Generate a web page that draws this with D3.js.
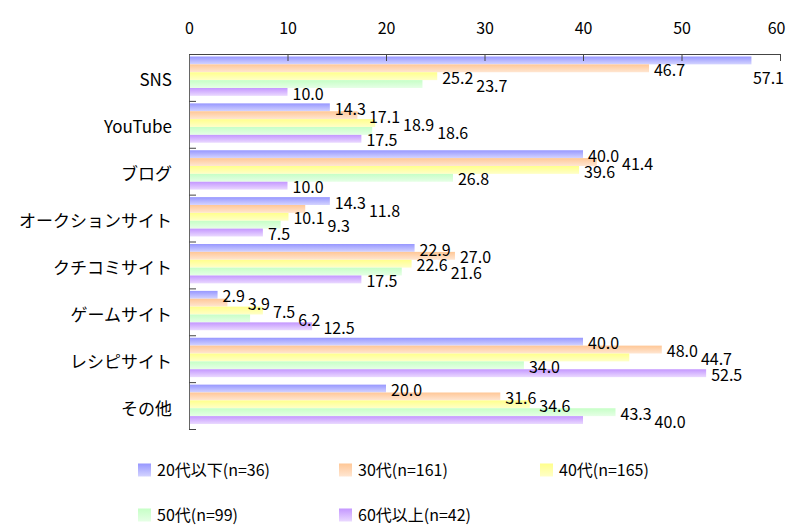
<!DOCTYPE html>
<html>
<head>
<meta charset="utf-8">
<script src="https://cdn.jsdelivr.net/npm/d3@7"></script>
<style>
  body { margin: 0; background: #fff; }
  svg text { font-family: "Noto Sans CJK JP", "Noto Sans", sans-serif; fill: #000; }
</style>
</head>
<body>
<div id="chart"></div>
<script>
// Données
const categories = ["SNS", "YouTube", "ブログ", "オークションサイト", "クチコミサイト", "ゲームサイト", "レシピサイト", "その他"];
const seriesNames = ["20代以下(n=36)", "30代(n=161)", "40代(n=165)", "50代(n=99)", "60代以上(n=42)"];
const age20 = [57.1, 14.3, 40.0, 14.3, 22.9, 2.9, 40.0, 20.0];
const age30 = [46.7, 17.1, 41.4, 11.8, 27.0, 3.9, 48.0, 31.6];
const age40 = [25.2, 18.9, 39.6, 10.1, 22.6, 7.5, 44.7, 34.6];
const age50 = [23.7, 18.6, 26.8, 9.3, 21.6, 6.2, 34.0, 43.3];
const age60 = [10.0, 17.5, 10.0, 7.5, 17.5, 12.5, 52.5, 40.0];
const xTicks = [0, 10, 20, 30, 40, 50, 60];

const seriesValues = [age20, age30, age40, age50, age60];
// dégradés (haut foncé -> bas clair)
const colors = [
  ["#9797ff", "#d4d4ff"],
  ["#ffc796", "#ffe6d2"],
  ["#ffff8c", "#ffffc8"],
  ["#c6ffc6", "#e6ffe6"],
  ["#c497ff", "#ead9ff"]
];

const W = 787, H = 526;
const margin = {top: 54, right: 7, bottom: 97, left: 189};
const width = W - margin.left - margin.right;
const height = H - margin.top - margin.bottom;

const svg = d3.select("#chart").append("svg")
  .attr("width", W)
  .attr("height", H);

const defs = svg.append("defs");
colors.forEach((c, i) => {
  const gr = defs.append("linearGradient")
    .attr("id", "grad" + i)
    .attr("x1", 0).attr("y1", 0).attr("x2", 0).attr("y2", 1);
  gr.append("stop").attr("offset", "0%").attr("stop-color", c[0]);
  gr.append("stop").attr("offset", "100%").attr("stop-color", c[1]);
});

const g = svg.append("g")
  .attr("transform", `translate(${margin.left},${margin.top})`);

// Échelles
const x = d3.scaleLinear().domain([0, 60]).range([0, width]);
const y = d3.scaleBand().domain(categories).range([0, height]).padding(0);
const ySub = d3.scaleBand().domain(d3.range(seriesNames.length))
  .range([2.5, y.bandwidth() - 5]).padding(0);

// Barres
const groups = g.selectAll(".grp")
  .data(categories)
  .enter().append("g")
  .attr("class", "grp")
  .attr("transform", d => `translate(0,${y(d)})`);

groups.each(function(cat, ci) {
  const grp = d3.select(this);
  seriesValues.forEach((vals, si) => {
    grp.append("rect")
      .attr("x", x(0))
      .attr("y", ySub(si))
      .attr("width", x(vals[ci]) - x(0))
      .attr("height", ySub.bandwidth())
      .attr("fill", `url(#grad${si})`);
  });
});

// Étiquettes de valeurs (décalées vers la droite quand elles se chevauchent)
groups.each(function(cat, ci) {
  const grp = d3.select(this);
  const placed = [];
  seriesValues.forEach((vals, si) => {
    let ly = ySub(si) + ySub.bandwidth() / 2 + 2;
    const t = grp.append("text")
      .attr("dy", "0.35em")
      .style("font-size", "16px")
      .text(vals[ci].toFixed(1));
    const w = t.node().getComputedTextLength();
    let lx = x(vals[ci]) + 5;
    const maxX = W - margin.left - w - 3;
    if (lx > maxX) { lx = maxX; ly += ySub.bandwidth() * 2; }
    let moved = true;
    while (moved) {
      moved = false;
      placed.forEach(p => {
        if (Math.abs(p.y - ly) < 12.5 && lx < p.x + p.w + 2 && lx + w > p.x - 2) {
          lx = p.x + p.w + 3;
          moved = true;
        }
      });
    }
    placed.push({x: lx, y: ly, w: w});
    t.attr("x", lx).attr("y", ly);
  });
});

// Axe du haut
const xAxis = d3.axisTop(x).tickValues(xTicks).tickSizeInner(-7).tickSizeOuter(0).tickPadding(20);
const xg = g.append("g").call(xAxis);
xg.select(".domain").attr("stroke", "#444");
xg.selectAll(".tick line").attr("stroke", "#444");
xg.selectAll("text").style("font-size", "16px").attr("fill", "#000");
// dernier libellé : on le garde dans la fenêtre
xg.selectAll(".tick text").filter(d => d === 60).attr("x", -4);

// Axe gauche (graduations entre catégories)
const yLin = d3.scaleLinear().domain([0, categories.length]).range([0, height]);
const yg = g.append("g")
  .call(d3.axisLeft(yLin).ticks(categories.length).tickSizeInner(-7).tickSizeOuter(0).tickFormat(""));
yg.select(".domain").attr("stroke", "#666");
yg.selectAll(".tick line").attr("stroke", "#444");

// Libellés de catégories
g.selectAll(".cat")
  .data(categories)
  .enter().append("text")
  .attr("class", "cat")
  .attr("x", -17)
  .attr("y", d => y(d) + y.bandwidth() / 2 + 3)
  .attr("dy", "0.35em")
  .attr("text-anchor", "end")
  .style("font-size", "17px")
  .text(d => d);

// Légende
const legendPos = [[138, 470], [339, 470], [540, 470], [138, 515], [339, 515]];
const legend = svg.selectAll(".legend-item")
  .data(seriesNames)
  .enter().append("g")
  .attr("class", "legend-item")
  .attr("transform", (d, i) => `translate(${legendPos[i][0]},${legendPos[i][1]})`);

legend.append("rect")
  .attr("x", 0).attr("y", -6.5)
  .attr("width", 13).attr("height", 13)
  .attr("fill", (d, i) => `url(#grad${i})`);

legend.append("text")
  .attr("x", 19)
  .attr("dy", "0.35em")
  .style("font-size", "16px")
  .text(d => d);
</script>
</body>
</html>
